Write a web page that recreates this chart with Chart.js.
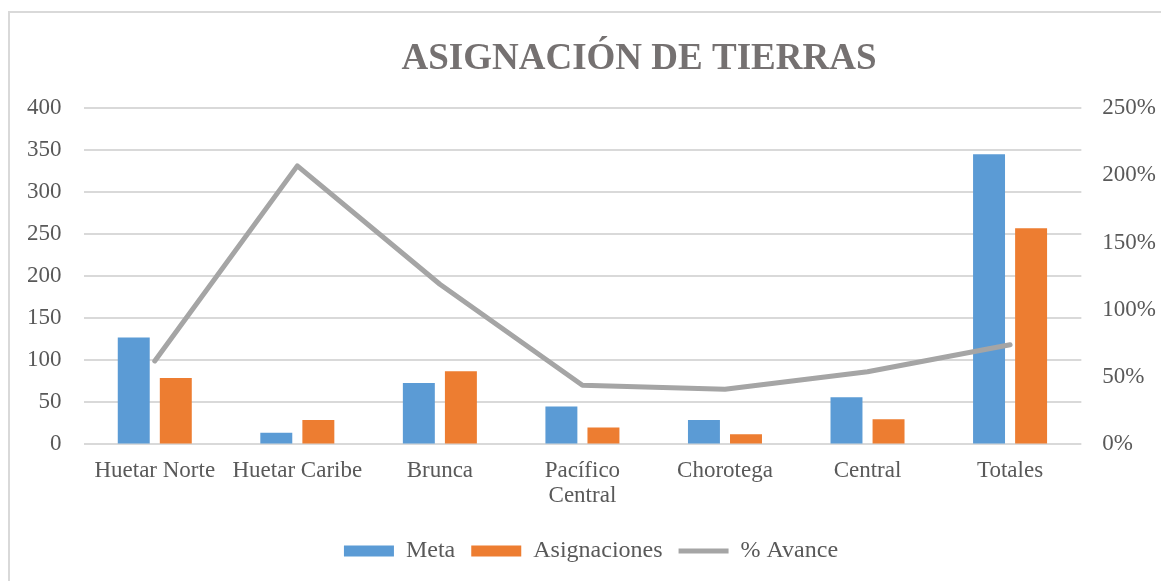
<!DOCTYPE html>
<html>
<head>
<meta charset="utf-8">
<script src="https://cdn.jsdelivr.net/npm/chart.js@4"></script>
<style>
    body { margin: 0; background: #fff; overflow: hidden; }
    #wrap { position: absolute; left: 0; top: 0; width: 1161px; height: 581px; overflow: hidden; }
    #frame { position: absolute; left: 8px; top: 11px; width: 1200px; height: 620px; border-left: 2px solid #d9d9d9; border-top: 2px solid #d9d9d9; }
</style>
</head>
<body>
<div id="frame"></div>
<div id="wrap"><canvas id="tierras_chart" width="1177" height="581"></canvas></div>
<script>
const categories = ["Huetar Norte", "Huetar Caribe", "Brunca", ["Pacífico", "Central"], "Chorotega", "Central", "Totales"];
const meta = [127, 14, 73, 45, 29, 56, 345];
const asignaciones = [79, 29, 87, 20, 12, 30, 257];
const avance = [62, 207, 119, 44, 41, 54, 74];
const chart_title = "ASIGNACIÓN DE TIERRAS";

const text_color = "#595959";
const font_family = "'Liberation Serif', 'Times New Roman', serif";

// title sits off-centre in the original, so draw it ourselves
const title_plugin = {
    id: "title_plugin",
    afterDraw(c) {
        const ctx = c.ctx;
        ctx.save();
        ctx.font = "bold 37px " + font_family;
        ctx.fillStyle = "#757171";
        ctx.textAlign = "center";
        ctx.textBaseline = "alphabetic";
        ctx.fillText(chart_title, 639, 69);
        ctx.restore();
    }
};

const chart = document.getElementById("tierras_chart").getContext("2d");
myChart = new Chart(chart, {
    type: "bar",
    data: {
        labels: categories,
        datasets: [{
            label: "Meta",
            data: meta,
            backgroundColor: "#5b9bd5",
            pointStyle: "rect",
            categoryPercentage: 0.59,
            barPercentage: 0.76,
            order: 1,
            yAxisID: "y"
        }, {
            label: "Asignaciones",
            data: asignaciones,
            backgroundColor: "#ed7d31",
            pointStyle: "rect",
            categoryPercentage: 0.59,
            barPercentage: 0.76,
            order: 2,
            yAxisID: "y"
        }, {
            type: "line",
            label: "% Avance",
            data: avance,
            borderColor: "#a5a5a5",
            backgroundColor: "#a5a5a5",
            borderWidth: 5,
            pointRadius: 0,
            pointStyle: "line",
            borderCapStyle: "round",
            borderJoinStyle: "round",
            tension: 0,
            order: 0,
            yAxisID: "y1"
        }]
    },
    plugins: [title_plugin],
    options: {
        responsive: false,
        animation: false,
        layout: { padding: { left: 5, right: 0, top: 108, bottom: 8 } },
        plugins: {
            title: { display: false },
            legend: {
                position: "bottom",
                labels: {
                    usePointStyle: true,
                    pointStyleWidth: 50,
                    boxHeight: 11,
                    padding: 16,
                    color: text_color,
                    font: { family: font_family, size: 24 },
                    sort: (a, b) => a.datasetIndex - b.datasetIndex
                }
            },
            tooltip: { enabled: false }
        },
        scales: {
            x: {
                grid: { display: false, drawTicks: false },
                border: { display: false },
                ticks: { color: text_color, font: { family: font_family, size: 23, lineHeight: 1.1 }, padding: 14, maxRotation: 0 }
            },
            y: {
                position: "left",
                min: 0,
                max: 400,
                grid: { color: "#d9d9d9", lineWidth: 2, drawTicks: false },
                border: { display: false },
                ticks: { stepSize: 50, color: text_color, font: { family: font_family, size: 23 }, padding: 22 }
            },
            y1: {
                position: "right",
                min: 0,
                max: 250,
                grid: { display: false, drawTicks: false },
                border: { display: false },
                ticks: { stepSize: 50, color: text_color, font: { family: font_family, size: 23 }, padding: 21,
                    callback: (v) => v + "%" }
            }
        }
    }
});
</script>
</body>
</html>
